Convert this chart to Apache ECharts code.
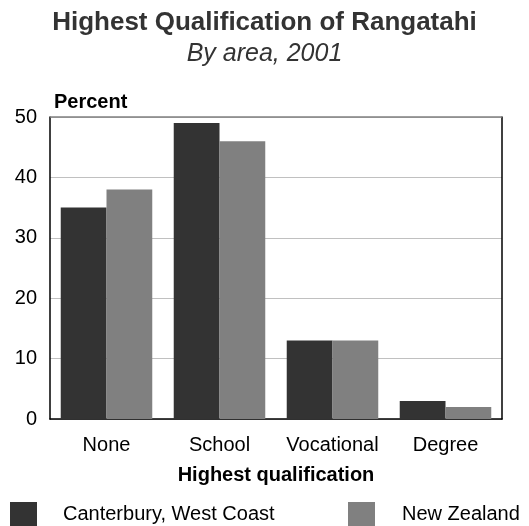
<!DOCTYPE html>
<html>
<head>
<meta charset="utf-8">
<script src="https://cdn.jsdelivr.net/npm/echarts@6/dist/echarts.min.js"></script>
<style>
  html, body { margin: 0; padding: 0; background: #fff; }
  #chart { width: 529px; height: 526px; }
</style>
</head>
<body>
<div id="chart"></div>
<script>
const categories = ['None', 'School', 'Vocational', 'Degree']
const canterbury = [35, 49, 13, 3]
const newZealand = [38, 46, 13, 2]
const yTicks = [0, 10, 20, 30, 40, 50]

const font = 'Arial, "Liberation Sans", sans-serif'
const chart = echarts.init(document.getElementById('chart'))

const option = {
  animation: false,
  textStyle: { fontFamily: font },
  title: [
    {
      text: 'Highest Qualification of Rangatahi',
      left: 'center', top: 5,
      textStyle: { fontSize: 26, fontWeight: 'bold', color: '#333', fontFamily: font }
    },
    {
      text: 'By area, 2001',
      left: 'center', top: 37,
      textStyle: { fontSize: 25, fontStyle: 'italic', fontWeight: 'normal', color: '#333', fontFamily: font }
    },
    {
      text: 'Percent',
      left: 49, top: 87,
      textStyle: { fontSize: 20, fontWeight: 'bold', color: '#000', fontFamily: font }
    }
  ],
  legend: [
    {
      data: ['Canterbury, West Coast'],
      left: 5, top: 497,
      icon: 'rect', itemWidth: 27, itemHeight: 24,
      textStyle: { fontSize: 20, color: '#000', padding: [0, 0, 0, 21], fontFamily: font }
    },
    {
      data: ['New Zealand'],
      left: 343, top: 497,
      icon: 'rect', itemWidth: 27, itemHeight: 24,
      textStyle: { fontSize: 20, color: '#000', padding: [0, 0, 0, 22], fontFamily: font }
    }
  ],
  grid: { left: 50, right: 27, top: 117, bottom: 107 },
  xAxis: {
    type: 'category',
    data: categories,
    name: 'Highest qualification',
    nameLocation: 'middle',
    nameGap: 46,
    nameTextStyle: { fontSize: 20, fontWeight: 'bold', color: '#000', fontFamily: font },
    axisLine: { show: true, lineStyle: { color: '#000', width: 1.5 } },
    axisTick: { show: false },
    axisLabel: { fontSize: 20, color: '#000', margin: 16, interval: 0, fontFamily: font }
  },
  yAxis: [
    {
      type: 'value',
      min: 0, max: 50, interval: 10,
      axisLine: { show: true, lineStyle: { color: '#000', width: 1.5 } },
      axisTick: { show: false },
      axisLabel: {
        fontSize: 20, color: '#000', margin: 13, fontFamily: font,
        formatter: v => (yTicks.includes(v) ? String(v) : '')
      },
      splitLine: { show: true, lineStyle: { color: '#c0c0c0', width: 1 } }
    },
    {
      type: 'value',
      min: 0, max: 50, interval: 10,
      position: 'right',
      axisLine: { show: true, lineStyle: { color: '#000', width: 1.5 } },
      axisTick: { show: false },
      axisLabel: { show: false },
      splitLine: { show: false }
    }
  ],
  series: [
    {
      name: 'Canterbury, West Coast',
      type: 'bar',
      data: canterbury,
      itemStyle: { color: '#333333' },
      barGap: '0%',
      barCategoryGap: '19%'
    },
    {
      name: 'New Zealand',
      type: 'bar',
      data: newZealand,
      itemStyle: { color: '#808080' }
    }
  ]
}

chart.setOption(option)

// gray top border of the plot area
const topY = chart.convertToPixel({ yAxisIndex: 0 }, 50)
chart.setOption({
  graphic: [{
    type: 'line',
    shape: { x1: 50, y1: topY, x2: 502, y2: topY },
    style: { stroke: '#808080', lineWidth: 1.5 },
    z: 10
  }]
})
</script>
</body>
</html>
